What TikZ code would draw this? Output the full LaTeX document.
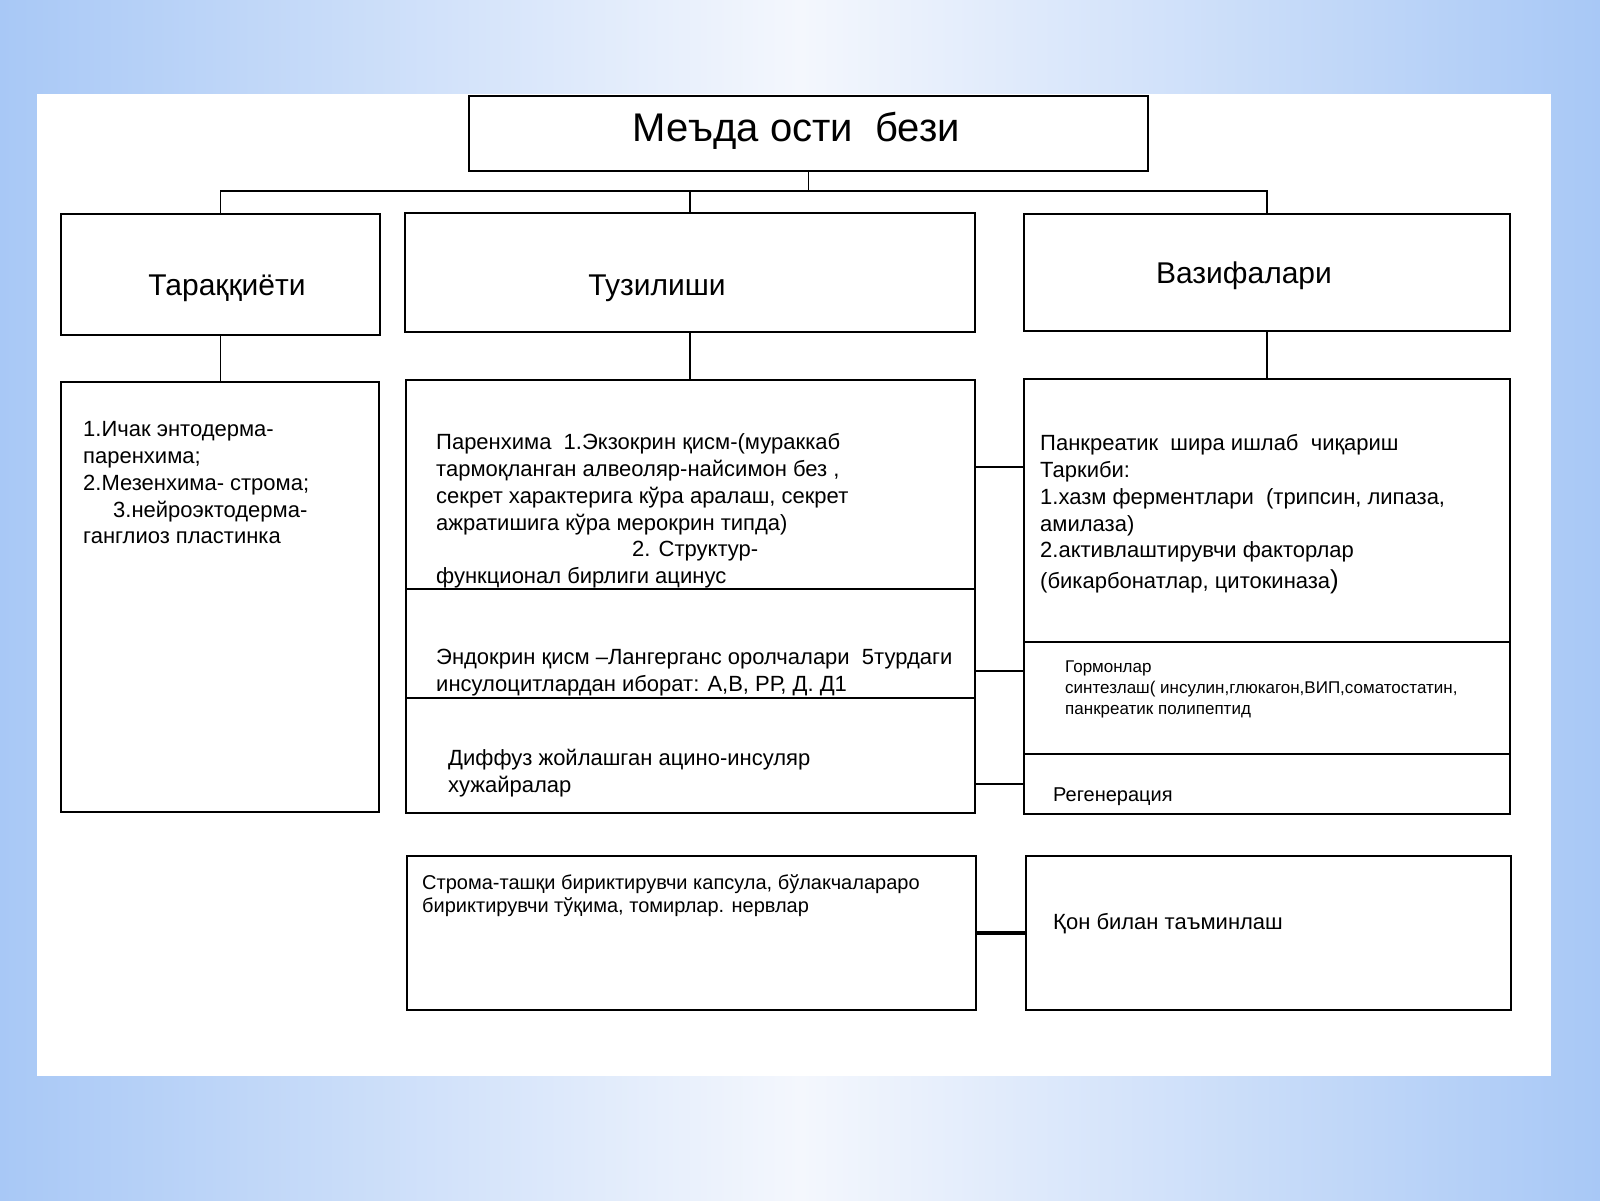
\documentclass[tikz,border=0pt]{standalone}
\usepackage{fontspec}
\setmainfont{Liberation Sans}
\definecolor{bgblue}{RGB}{168,200,246}
\definecolor{bglight}{RGB}{244,247,253}

\begin{document}
\begin{tikzpicture}[x=1pt,y=-1pt,
    box/.style={draw,line width=2pt,fill=white,inner sep=0pt},
    link/.style={line width=1.8pt},
    txt/.style={anchor=north west,inner sep=0pt,align=left,font=\fontsize{22}{26.7}\selectfont},
    head/.style={inner sep=0pt,font=\fontsize{30}{36}\selectfont}]
        \useasboundingbox (0,0) rectangle (1600,1200);
        \shade[left color=bgblue,right color=bgblue,middle color=bglight] (0,0) rectangle (1600,1200);
        \fill[white] (37,94) rectangle (1551,1076);

        \node[box,minimum width=679pt,minimum height=75pt] (title) at (808.5,133.5){};
        \node[inner sep=0pt,font=\fontsize{40}{48}\selectfont] (titletext) at (796,131){Меъда ости\ \ бези};

        \node[box,minimum width=319pt,minimum height=121pt] (dev) at (220.5,274.5){};
        \node[box,minimum width=570pt,minimum height=119pt] (struct) at (690,272.5){};
        \node[box,minimum width=486pt,minimum height=117pt] (func) at (1267,272.5){};
        \node[head] (devhead) at (227,288){Тараққиёти};
        \node[head] (structhead) at (657,288){Тузилиши};
        \node[head] (funchead) at (1244,276){Вазифалари};

        \coordinate (bus) at (808.5,191);
        \draw[link] (title.south) -- (bus);
        \draw[link] (bus) -| (dev.north);
        \draw[link] (bus) -| (struct.north);
        \draw[link] (bus) -| (func.north);

        % left column
        \node[box,minimum width=318pt,minimum height=430pt] (devlist) at (220,597){};
        \node[txt] (devtext) at (83,418){\strut 1.Ичак энтодерма-\\паренхима;\\2.Мезенхима- строма;\\\hspace*{30pt}3.нейроэктодерма-\\ганглиоз пластинка};
        \draw[link] (dev.south) -- (dev.south |- devlist.north);

        % middle column
        \node[box,minimum width=569pt,minimum height=209pt] (parenh) at (690.5,484.5){};
        \node[box,minimum width=569pt,minimum height=109pt] (endo) at (690.5,643.5){};
        \node[box,minimum width=569pt,minimum height=115pt] (diffuse) at (690.5,755.5){};
        \node[txt] (parenhtext) at (436,431){\strut Паренхима\ \ 1.Экзокрин қисм-(мураккаб\\тармоқланган алвеоляр-найсимон без ,\\секрет характерига кўра аралаш, секрет\\ажратишига кўра мерокрин типда)\\\hspace*{196pt}2. Структур-\\функционал бирлиги ацинус};
        \node[txt] (endotext) at (436,646){\strut Эндокрин қисм –Лангерганс оролчалари\ \ 5турдаги\\инсулоцитлардан иборат: А,В, РР, Д. Д1};
        \node[txt] (diffusetext) at (448,747){\strut Диффуз жойлашган ацино-инсуляр\\хужайралар};
        \draw[link] (struct.south) -- (struct.south |- parenh.north);

        % right column
        \node[box,minimum width=486pt,minimum height=263pt] (pancr) at (1267,510.5){};
        \node[box,minimum width=486pt,minimum height=112pt] (horm) at (1267,698){};
        \node[box,minimum width=486pt,minimum height=60pt] (regen) at (1267,784){};
        \node[txt] (pancrtext) at (1040,432){\strut Панкреатик\ \ шира ишлаб\ \ чиқариш\\Таркиби:\\1.хазм ферментлари\ \ (трипсин, липаза,\\амилаза)\\2.активлаштирувчи факторлар\\[4pt](бикарбонатлар, цитокиназа{\fontsize{26}{26}\selectfont)}};
        \node[txt,font=\fontsize{17}{21}\selectfont] (hormtext) at (1065,658){\strut Гормонлар\\синтезлаш( инсулин,глюкагон,ВИП,соматостатин,\\панкреатик полипептид};
        \node[anchor=base west,inner sep=0pt,font=\fontsize{20}{24}\selectfont] (regentext) at (1053,801){Регенерация};
        \draw[link] (func.south) -- (pancr.north);

        \draw[link] (parenh.east |- 0,467) -- (pancr.west |- 0,467);
        \draw[link] (endo.east |- 0,671) -- (horm.west |- 0,671);
        \draw[link] (diffuse.east |- regen.west) -- (regen.west);

        % bottom row
        \node[box,minimum width=569pt,minimum height=154pt] (stroma) at (691.5,933){};
        \node[box,minimum width=485pt,minimum height=154pt] (blood) at (1268.5,933){};
        \node[txt,font=\fontsize{20}{23.5}\selectfont] (stromatext) at (422,872.5){\strut Строма-ташқи бириктирувчи капсула, бўлакчалараро\\бириктирувчи тўқима, томирлар. нервлар};
        \node[anchor=base west,inner sep=0pt,font=\fontsize{22}{26.7}\selectfont] (bloodtext) at (1053,929){Қон билан таъминлаш};
        \draw[line width=3.5pt] (stroma.east) -- (blood.west);
\end{tikzpicture}
\end{document}
